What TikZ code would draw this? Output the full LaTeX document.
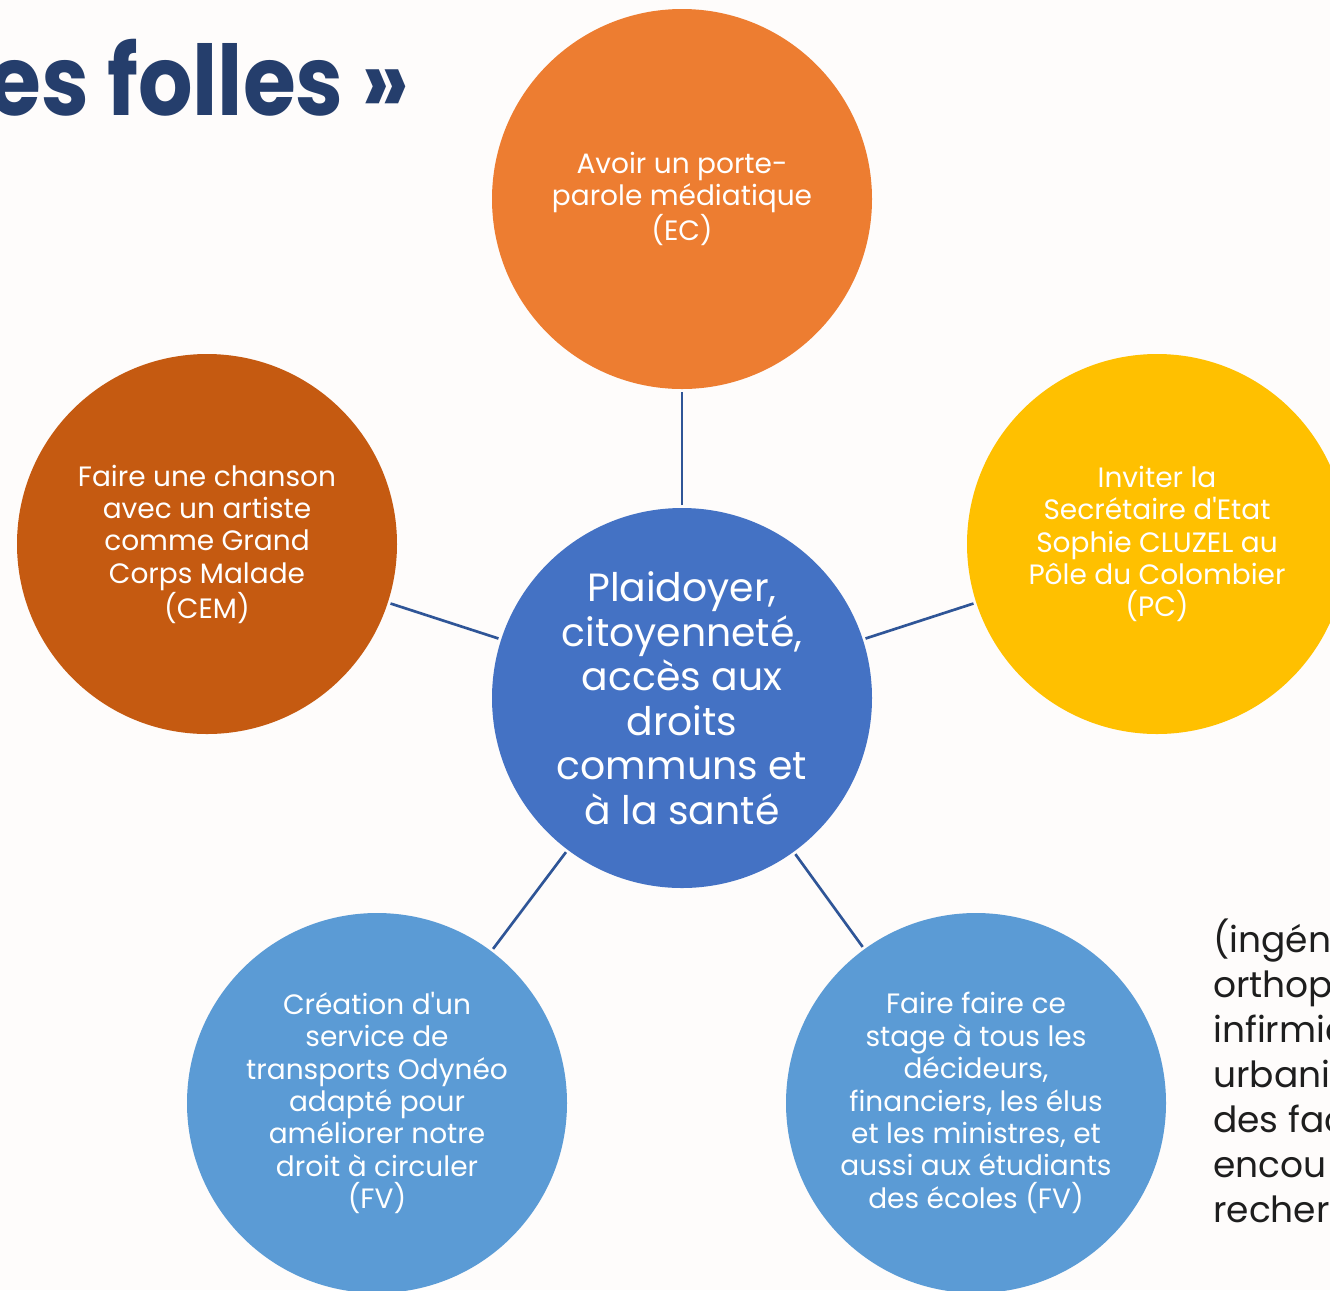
\documentclass[tikz,border=0pt]{standalone}
\usepackage{fontspec}
\setmainfont{Poppins}[Ligatures=TeXOff]
\newfontfamily\titlefont{Poppins}[FakeStretch=0.88]
\definecolor{bgc}{HTML}{FEFCFB}
\definecolor{corange}{HTML}{ED7D31}
\definecolor{cdark}{HTML}{C55A11}
\definecolor{cgold}{HTML}{FFC000}
\definecolor{cblue}{HTML}{4472C4}
\definecolor{clight}{HTML}{5B9BD5}
\definecolor{cline}{HTML}{2F5597}
\definecolor{navy}{HTML}{253E6C}
\definecolor{ink}{HTML}{1E1E1E}
\tikzset{
  bubble/.style={circle, minimum size=285pt, inner sep=0pt, text=white, align=center,
    font=\fontsize{21pt}{24.3pt}\selectfont},
  hub/.style={bubble, font=\fontsize{29.5pt}{33.4pt}\selectfont},
  link/.style={draw=cline, line width=2pt, shorten <=2pt, shorten >=2pt},
  side/.style={anchor=base west, inner sep=0pt, text=ink, font=\fontsize{27pt}{34pt}\selectfont}
}
\begin{document}
\begin{tikzpicture}[x=0.75pt,y=-0.75pt]
\useasboundingbox (0,0) rectangle (1330,1290);
\clip (0,0) rectangle (1330,1290);
\fill[bgc] (0,0) rectangle (1330,1290);

\node[anchor=base east, inner sep=0pt, text=navy, font=\titlefont\fontsize{73pt}{80pt}\selectfont\bfseries] (title) at (410,115) {es folles »};

\node[hub, fill=cblue] (c) at (682,698) {Plaidoyer,\\citoyenneté,\\accès aux\\droits\\communs et\\à la santé};
\node[bubble, fill=corange] (t) at (682,199) {Avoir un porte-\\parole médiatique\\(EC)};
\node[bubble, fill=cdark] (l) at (207,544) {Faire une chanson\\avec un artiste\\comme Grand\\Corps Malade\\(CEM)};
\node[bubble, fill=cgold] (r) at (1157,544) {Inviter la\\Secrétaire d'Etat\\Sophie CLUZEL au\\Pôle du Colombier\\(PC)};
\node[bubble, fill=clight] (bl) at (377,1103) {Création d'un\\service de\\transports Odynéo\\adapté pour\\améliorer notre\\droit à circuler\\(FV)};
\node[bubble, fill=clight] (br) at (976,1103) {Faire faire ce\\stage à tous les\\décideurs,\\financiers, les élus\\et les ministres, et\\aussi aux étudiants\\des écoles (FV)};

\draw[link] (c) -- (t);
\draw[link] (c) -- (l);
\draw[link] (c) -- (r);
\draw[link] (c) -- (bl);
\draw[link] (c) -- (br);

\node[side] (s1) at (1213,952) {(ingéni};
\node[side] (s2) at (1213,997) {orthop};
\node[side] (s3) at (1213,1042) {infirmie};
\node[side] (s4) at (1213,1087) {urbanis};
\node[side] (s5) at (1213,1132) {des fac};
\node[side] (s6) at (1213,1177) {encou};
\node[side] (s7) at (1213,1222) {recher};
\end{tikzpicture}
\end{document}
